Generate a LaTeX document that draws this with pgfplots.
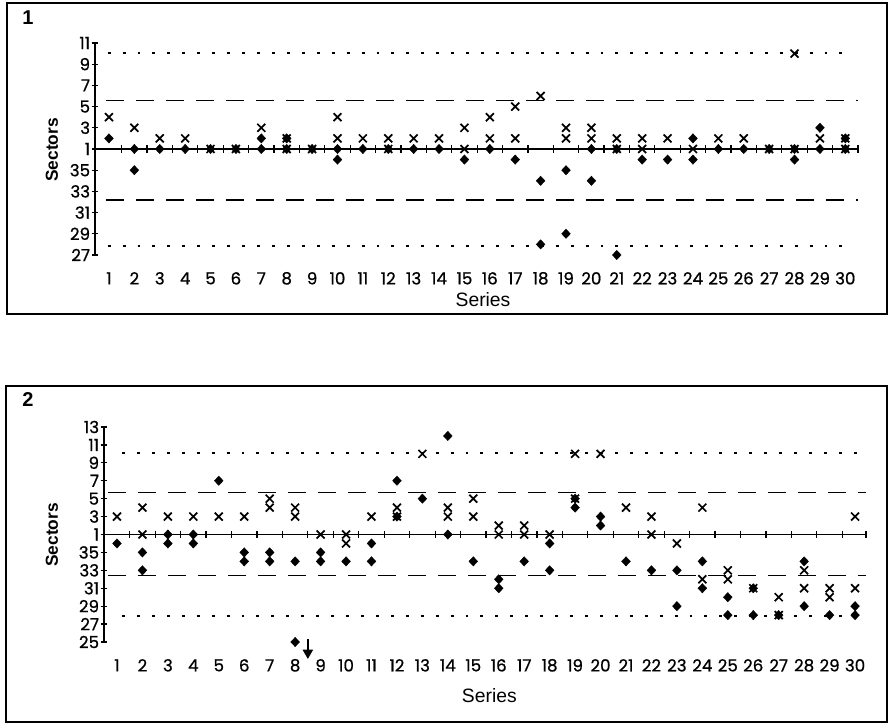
\documentclass[border=0pt]{standalone}
\usepackage{fontspec}
\setmainfont{Liberation Sans}
\newfontfamily\tickfont{Poppins}[FakeBold=0.8]
\usepackage{pgfplots}
\usepackage{pgfplotstable}
\pgfplotsset{compat=1.18}
\usetikzlibrary{arrows.meta}

% offsets from sector 1: sector s -> s-1 (s<=18), s-37 (s>18)
\pgfplotstableread{
x y
1 3
2 2
3 1
4 1
5 0
6 0
7 2
8 1
8 0
9 0
10 3
10 1
11 1
12 1
12 0
13 1
14 1
15 2
15 0
16 3
16 1
17 4
17 1
18 5
19 2
19 1
20 2
20 1
21 1
21 0
22 1
22 0
23 1
24 0
25 1
26 1
27 0
28 9
28 0
29 1
30 1
30 0
}\pOneX
\pgfplotstableread{
x y
1 1
2 0
2 -2
3 0
4 0
5 0
6 0
7 1
7 0
8 1
8 0
9 0
10 0
10 -1
11 0
12 0
13 0
14 0
15 -1
16 0
17 -1
18 -3
18 -9
19 -2
19 -8
20 0
20 -3
21 0
21 -10
22 -1
23 -1
24 1
24 -1
25 0
26 0
27 0
28 0
28 -1
29 2
29 0
30 1
30 0
}\pOneD
\pgfplotstableread{
x y
1 2
2 3
2 0
3 2
4 2
5 2
6 2
7 4
7 3
8 3
8 2
9 0
10 0
10 -1
11 2
12 3
12 2
13 9
14 3
14 2
15 4
15 2
16 1
16 0
17 1
17 0
18 0
19 9
19 4
20 9
21 3
22 2
22 0
23 -1
24 3
24 -5
25 -4
25 -5
26 -6
27 -7
27 -9
28 -4
28 -6
29 -6
29 -7
30 2
30 -6
}\pTwoX
\pgfplotstableread{
x y
1 -1
2 -2
2 -4
3 0
3 -1
4 0
4 -1
5 6
6 -2
6 -3
7 -2
7 -3
8 -3
8 -12
9 -2
9 -3
10 -3
11 -1
11 -3
12 6
12 2
13 4
14 11
14 0
15 -3
16 -5
16 -6
17 -3
18 -1
18 -4
19 4
19 3
20 2
20 1
21 -3
22 -4
23 -4
23 -8
24 -3
24 -6
25 -7
25 -9
26 -6
26 -9
27 -9
28 -3
28 -8
29 -9
30 -8
30 -9
}\pTwoD

\pgfplotsset{
  sectoraxis/.style={
    scale only axis,
    clip=false,
    axis line style={draw=none},
    xtick={1,...,30},
    xtick pos=bottom,
    ytick pos=left,
    x tick style={draw=none},
    tick align=center,
    major tick length=5pt,
    y tick style={line width=0.9pt, black},
    ticklabel style={font=\tickfont\fontsize{12.5}{13}\selectfont},
    /pgf/number format/assume math mode=true,
    xticklabel style={anchor=center},
    yticklabel style={anchor=east, inner sep=1pt},
  },
  xser/.style={only marks, mark=x, mark size=4.2pt, mark options={line width=1.3pt, black}},
  dser/.style={only marks, mark=diamond*, mark size=3.5pt, mark options={xscale=1.25, fill=black, draw=black, line width=0.3pt}},
  zline/.style={black, line width=1pt, no marks},
  zticks/.style={only marks, mark=|, mark size=2.8pt, mark options={line width=0.9pt, black}},
  dashl/.style={black, line width=1pt, no marks, dash pattern=on 13.5pt off 9pt},
  dotl/.style={black, line width=0.9pt, no marks, dash pattern=on 2.2pt off 9pt},
}

\begin{document}
\begin{tikzpicture}
\path (0,0) rectangle (669pt,543pt);
% panel boxes
\draw[line width=1.1pt] (5.25pt,307.5pt) rectangle (665.25pt,540.75pt);
\draw[line width=1.1pt] (4.5pt,1.5pt) rectangle (665.25pt,253.5pt);
\node[font=\bfseries\fontsize{15}{16}\selectfont] at (21pt,529.5pt) {1};
\node[font=\bfseries\fontsize{15}{16}\selectfont] at (21pt,243pt) {2};
\node[font=\bfseries\fontsize{13}{14}\selectfont, rotate=90] at (39pt,430.5pt) {Sectors};
\node[font=\bfseries\fontsize{13}{14}\selectfont, rotate=90] at (39pt,141.75pt) {Sectors};
\node[font=\fontsize{14.5}{16}\selectfont] at (362.25pt,318pt) {Series};
\node[font=\fontsize{14.5}{16}\selectfont] at (367pt,21.5pt) {Series};

% ---------- panel 1 ----------
\begin{axis}[sectoraxis,
  at={(71.25pt,351.75pt)}, anchor=south west,
  width=572.25pt, height=159pt,
  xmin=0.45, xmax=30.5, ymin=-10, ymax=10,
  ytick={10,8,6,4,2,0,-2,-4,-6,-8,-10},
  yticklabels={11,9,7,5,3,1,35,33,31,29,27},
  xticklabel style={yshift=-15pt},
]
\draw[line width=1pt] (rel axis cs:0,0) -- (rel axis cs:0,1);
\addplot[dotl] coordinates {(0.95,9.05) (30.3,9.05)};
\addplot[dotl] coordinates {(0.95,-9.15) (30.3,-9.15)};
\addplot[dashl] coordinates {(0.9,4.6) (30.5,4.6)};
\addplot[dashl] coordinates {(0.9,-4.8) (30.5,-4.8)};
\addplot[zline] coordinates {(0.45,0) (30.5,0)};
\addplot[zticks] coordinates {(1.5,0) (2.5,0) (3.5,0) (4.5,0) (5.5,0) (6.5,0) (7.5,0) (8.5,0) (9.5,0) (10.5,0) (11.5,0) (12.5,0) (13.5,0) (14.5,0) (15.5,0) (16.5,0) (17.5,0) (18.5,0) (19.5,0) (20.5,0) (21.5,0) (22.5,0) (23.5,0) (24.5,0) (25.5,0) (26.5,0) (27.5,0) (28.5,0) (29.5,0) (30.5,0)};
\addplot[xser] table {\pOneX};
\addplot[dser] table {\pOneD};
\end{axis}

% ---------- panel 2 ----------
\begin{axis}[sectoraxis,
  at={(78pt,61.5pt)}, anchor=south west,
  width=571.5pt, height=161.25pt,
  xmin=0.49, xmax=30.43, ymin=-12, ymax=12,
  ytick={12,10,8,6,4,2,0,-2,-4,-6,-8,-10,-12},
  yticklabels={13,11,9,7,5,3,1,35,33,31,29,27,25},
  xticklabel style={yshift=-15pt},
]
\draw[line width=1pt] (rel axis cs:0,0) -- (rel axis cs:0,1);
\addplot[dotl] coordinates {(1.2,9.1) (30.2,9.1)};
\addplot[dotl] coordinates {(1.2,-9.1) (30.2,-9.1)};
\addplot[dashl] coordinates {(0.65,4.7) (30.43,4.7)};
\addplot[dashl] coordinates {(0.65,-4.6) (30.43,-4.6)};
\addplot[zline] coordinates {(0.49,0) (30.43,0)};
\addplot[zticks] coordinates {(1.5,0) (2.5,0) (3.5,0) (4.5,0) (5.5,0) (6.5,0) (7.5,0) (8.5,0) (9.5,0) (10.5,0) (11.5,0) (12.5,0) (13.5,0) (14.5,0) (15.5,0) (16.5,0) (17.5,0) (18.5,0) (19.5,0) (20.5,0) (21.5,0) (22.5,0) (23.5,0) (24.5,0) (25.5,0) (26.5,0) (27.5,0) (28.5,0) (29.5,0) (30.43,0)};
\addplot[xser] table {\pTwoX};
\addplot[dser] table {\pTwoD};
\draw[line width=1.6pt, -{Triangle[length=7pt,width=7.5pt]}] (axis cs:8.5,-11.7) -- (axis cs:8.5,-13.9);
\end{axis}
\end{tikzpicture}
\end{document}
